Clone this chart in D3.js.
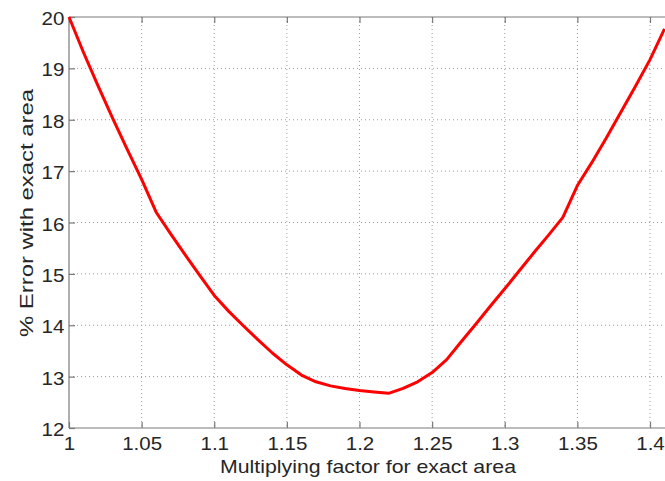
<!DOCTYPE html>
<html>
<head>
<meta charset="utf-8">
<script src="https://cdn.jsdelivr.net/npm/d3@7"></script>
<style>
  body { margin: 0; background: #fff; }
  .tick text { font-family: "Liberation Sans", Arial, sans-serif; font-size: 18px; fill: #262626; }
  .axis-label { font-family: "Liberation Sans", Arial, sans-serif; font-size: 19px; fill: #262626; }
</style>
</head>
<body>
<div id="chart"></div>
<script>
(function () {

  // data
  const factor = [1.00, 1.01, 1.02, 1.03, 1.04, 1.05, 1.06, 1.07, 1.08, 1.09,
    1.10, 1.11, 1.12, 1.13, 1.14, 1.15, 1.16, 1.17, 1.18, 1.19,
    1.20, 1.21, 1.22, 1.23, 1.24, 1.25, 1.26, 1.27, 1.28, 1.29,
    1.30, 1.31, 1.32, 1.33, 1.34, 1.35, 1.36, 1.37, 1.38, 1.39,
    1.40, 1.41];
  const errorPct = [20.0, 19.31, 18.66, 18.03, 17.43, 16.84, 16.2, 15.78, 15.37, 14.97,
    14.58, 14.27, 13.99, 13.72, 13.46, 13.23, 13.03, 12.9, 12.82, 12.77,
    12.73, 12.7, 12.675, 12.77, 12.9, 13.08, 13.33, 13.68, 14.02, 14.37,
    14.71, 15.06, 15.41, 15.75, 16.1, 16.72, 17.17, 17.65, 18.15, 18.65,
    19.17, 19.77];
  const xTicks = [1, 1.05, 1.1, 1.15, 1.2, 1.25, 1.3, 1.35, 1.4];
  const yTicks = [12, 13, 14, 15, 16, 17, 18, 19, 20];

  // chart settings
  const svg_width = 665;
  const svg_height = 481;
  const margin = { top: 17, left: 69, bottom: 53 };
  const height = svg_height - margin.top - margin.bottom;
  const pxPerUnit = 1452.5;
  const xMax = 1.42;
  const width = (xMax - 1) * pxPerUnit;
  const axisColor = "#7a7a7a";
  const gridColor = "#9a9a9a";
  const stretch = "scale(1.14,1)";   // reference text is a bit wide

  const x = d3.scaleLinear().domain([1, xMax]).range([0, width]);
  const y = d3.scaleLinear().domain([12, 20]).range([height, 0]);

  const svg = d3.select("#chart").append("svg")
    .attr("width", svg_width)
    .attr("height", svg_height)
    .append("g")
    .attr("transform", "translate(" + margin.left + "," + margin.top + ")");

  // grid
  svg.append("g").selectAll("line")
    .data(xTicks.slice(1))
    .enter().append("line")
    .attr("x1", d => x(d)).attr("x2", d => x(d))
    .attr("y1", 0).attr("y2", height)
    .attr("stroke", gridColor).attr("stroke-dasharray", "1,3");
  svg.append("g").selectAll("line")
    .data(yTicks.slice(1, -1))
    .enter().append("line")
    .attr("x1", 0).attr("x2", width)
    .attr("y1", d => y(d)).attr("y2", d => y(d))
    .attr("stroke", gridColor).attr("stroke-dasharray", "1,3");

  // axes (MATLAB style, ticks pointing in)
  const xAxis = svg.append("g")
    .attr("transform", "translate(0," + height + ")")
    .call(d3.axisBottom(x).tickValues(xTicks).tickSize(-6).tickPadding(9).tickFormat(d3.format("")));
  const xTop = svg.append("g")
    .call(d3.axisTop(x).tickValues(xTicks).tickSize(-6).tickFormat(""));
  const yAxis = svg.append("g")
    .call(d3.axisLeft(y).tickValues(yTicks).tickSize(-6).tickPadding(4));

  [xAxis, xTop, yAxis].forEach(g => {
    g.select(".domain").attr("stroke", axisColor).attr("stroke-width", 1.2);
    g.selectAll(".tick line").attr("stroke", axisColor).attr("stroke-width", 1.2);
    g.selectAll(".tick text").attr("transform", stretch);
  });
  yAxis.selectAll(".tick text").attr("dy", "0.42em");
  yAxis.select(".domain").attr("d", "M0," + height + "V0");
  xAxis.select(".domain").attr("d", "M0,0H" + width);
  xTop.select(".domain").attr("d", "M0,0H" + width);

  // curve
  const line = d3.line()
    .x(d => x(d[0]))
    .y(d => y(d[1]));
  svg.append("path")
    .datum(factor.map((f, i) => [f, errorPct[i]]))
    .attr("fill", "none")
    .attr("stroke", "#ff0000")
    .attr("stroke-width", 3)
    .attr("stroke-linejoin", "round")
    .attr("d", line);

  // axis labels
  svg.append("text")
    .attr("class", "axis-label")
    .attr("x", 299)
    .attr("y", height + 45)
    .attr("text-anchor", "middle")
    .attr("textLength", 296)
    .attr("lengthAdjust", "spacingAndGlyphs")
    .text("Multiplying factor for exact area");
  svg.append("text")
    .attr("class", "axis-label")
    .attr("transform", "translate(-36," + (213 - margin.top) + ") rotate(-90)")
    .attr("text-anchor", "middle")
    .attr("textLength", 248)
    .attr("lengthAdjust", "spacingAndGlyphs")
    .text("% Error with exact area");

})();
</script>
</body>
</html>
